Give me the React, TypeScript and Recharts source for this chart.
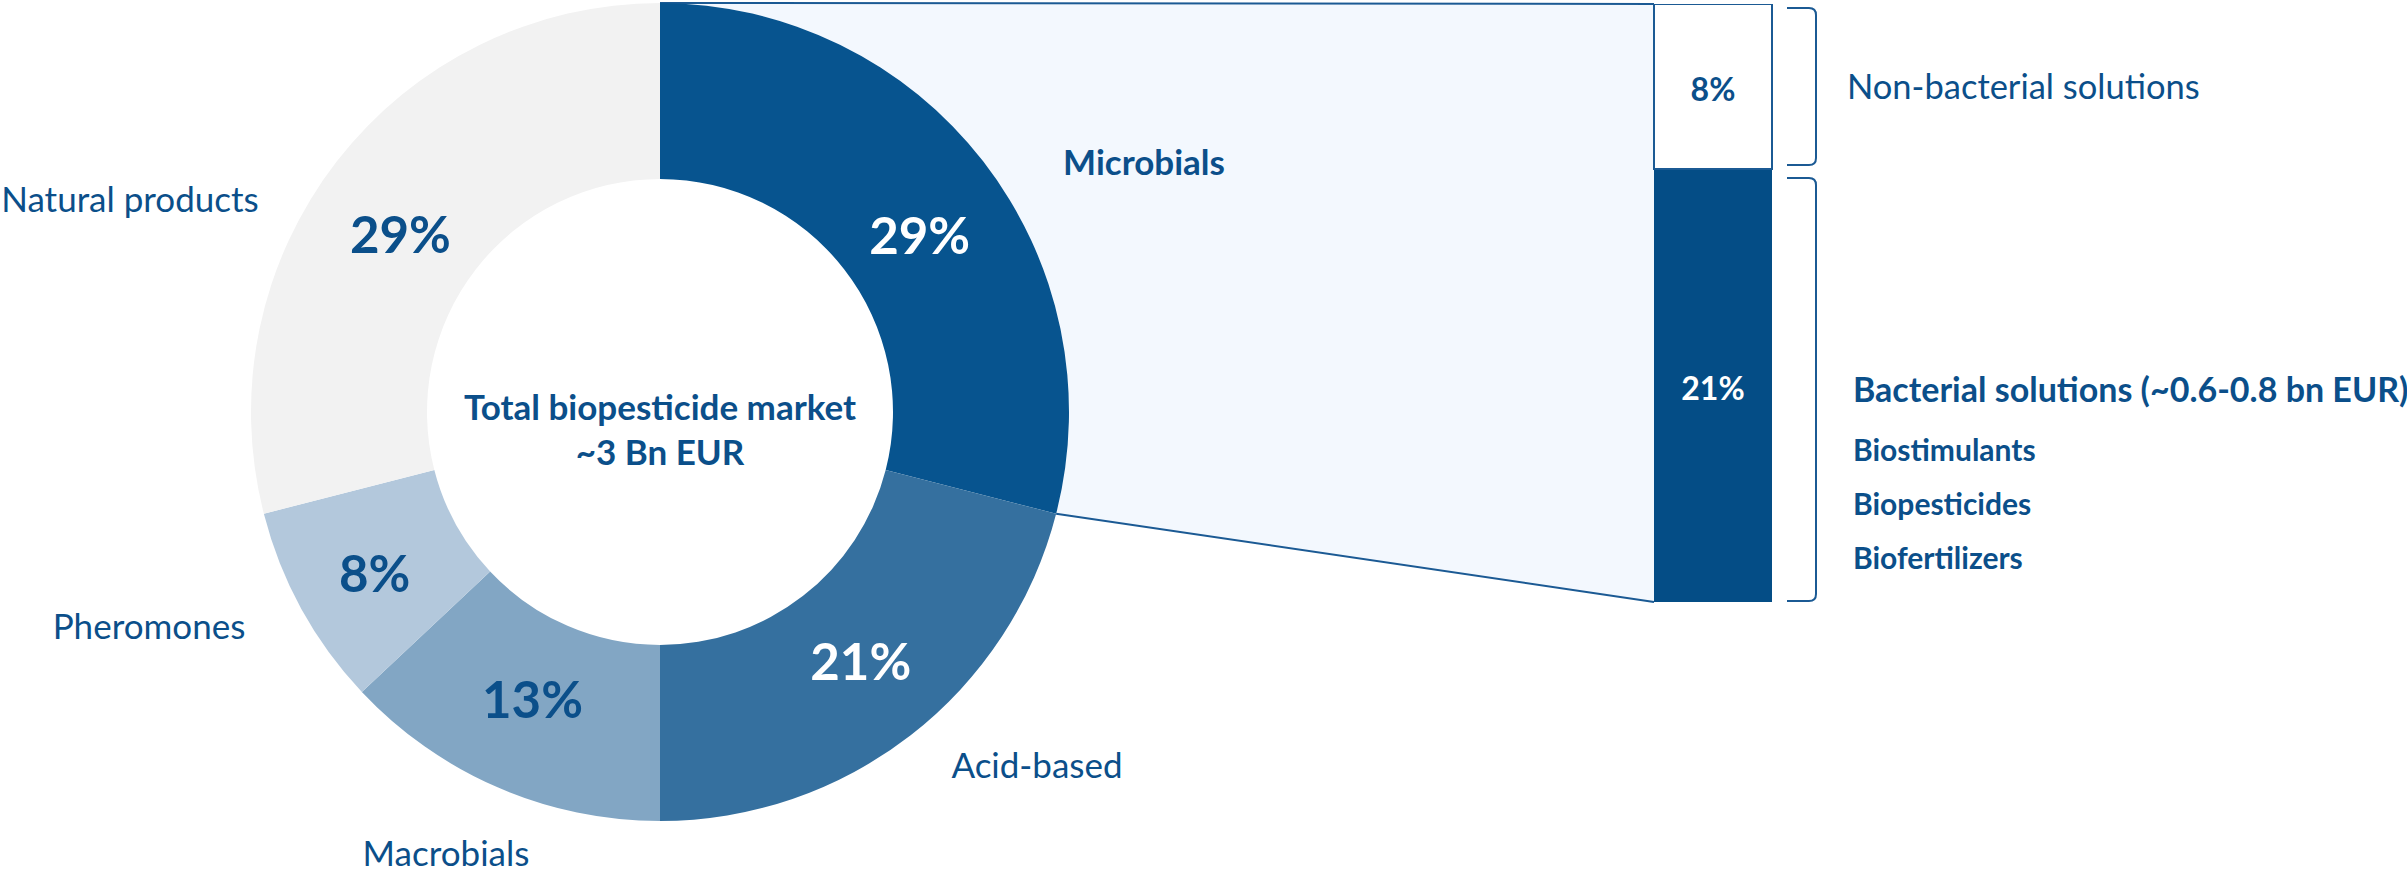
import React from 'react';
import { PieChart, Pie, Cell, BarChart, Bar, XAxis, YAxis, LabelList } from 'recharts';

// market split, clockwise from 12 o'clock
const segments = ['Microbials', 'Acid-based', 'Macrobials', 'Pheromones', 'Natural products'];
const shares = [29, 21, 13, 8, 29];

// split of the microbials slice (bottom of stack first)
const microParts = ['Bacterial solutions', 'Non-bacterial solutions'];
const microShares = [21, 8];

const bacterialItems = ['Biostimulants', 'Biopesticides', 'Biofertilizers'];
const centerLines = ['Total biopesticide market', '~3 Bn EUR'];
const bacterialTitle = 'Bacterial solutions (~0.6-0.8 bn EUR)';

const FONT = "Lato, 'Noto Sans', sans-serif";
const TEXT = '#0B4F8A';
const segmentColors = ['#07548F', '#35709F', '#82A6C4', '#B3C8DC', '#F2F2F2'];
const pctColors = ['#FFFFFF', '#FFFFFF', TEXT, TEXT, TEXT];

// layout
const W = 2407;
const H = 873;
const CX = 660;
const CY = 412;
const R_IN = 233;
const R_OUT = 409;
const BAR_X = 1654;
const BAR_W = 118;
const BAR_TOP = 4;
const BAR_BOTTOM = 602;
const BR_X0 = 1787;
const BR_X1 = 1816;
const LINE = '#1B5A94';

// name label anchors, relative to donut centre (text-anchor middle, baseline)
const nameOffsets: [number, number][] = [
  [484, -237],
  [377, 366],
  [-214, 454],
  [-511, 227],
  [-530, -200],
];
// small nudges of the % labels away from the mid-ring point
const pctNudge: [number, number][] = [
  [6, 19],
  [4, -5],
  [0, -8],
  [-4, 6],
  [-6, 18],
];

const RAD = Math.PI / 180;
const pieData = segments.map((name, i) => ({ name, value: shares[i] }));
const barRow = [{ name: 'Microbials', bacterial: microShares[0], nonBacterial: microShares[1] }];
const microTotal = microShares[0] + microShares[1];
const total = shares.reduce((a, b) => a + b, 0);

const renderLabel = (p: any) => {
  const { cx, cy, midAngle, innerRadius, outerRadius, index } = p;
  const r = (innerRadius + outerRadius) / 2;
  const x = cx + r * Math.cos(-midAngle * RAD) + pctNudge[index][0];
  const y = cy + r * Math.sin(-midAngle * RAD) + pctNudge[index][1];
  const [dx, dy] = nameOffsets[index];
  return (
    <g>
      <text
        x={x}
        y={y}
        textAnchor="middle"
        dominantBaseline="central"
        fill={pctColors[index]}
        fontSize={51}
        fontWeight={700}
        fontFamily={FONT}
      >
        {shares[index]}%
      </text>
      <text
        x={cx + dx}
        y={cy + dy}
        textAnchor="middle"
        fill={TEXT}
        fontSize={35}
        fontWeight={index === 0 ? 700 : 400}
        fontFamily={FONT}
      >
        {segments[index]}
      </text>
    </g>
  );
};

function bracket(y1: number, y2: number) {
  const r = 7;
  return `M ${BR_X0} ${y1} L ${BR_X1 - r} ${y1} Q ${BR_X1} ${y1} ${BR_X1} ${y1 + r} L ${BR_X1} ${y2 - r} Q ${BR_X1} ${y2} ${BR_X1 - r} ${y2} L ${BR_X0} ${y2}`;
}

export default function App() {
  // where the microbials slice ends on the outer rim
  const endDeg = 90 - (360 * shares[0]) / total;
  const px = CX + R_OUT * Math.cos(endDeg * RAD);
  const py = CY - R_OUT * Math.sin(endDeg * RAD);
  const topX = CX;
  const topY = CY - R_OUT;
  const divY = BAR_TOP + ((BAR_BOTTOM - BAR_TOP) * microShares[1]) / microTotal;

  const layer: React.CSSProperties = { position: 'absolute', left: 0, top: 0 };

  return (
    <div style={{ position: 'relative', width: W, height: H, background: '#fff', overflow: 'hidden' }}>
      <style>{'body{margin:0}'}</style>

      <svg width={W} height={H} style={layer}>
        <path
          d={`M ${topX} ${topY} L ${BAR_X} ${BAR_TOP} L ${BAR_X} ${BAR_BOTTOM} L ${px} ${py} A ${R_OUT} ${R_OUT} 0 0 0 ${topX} ${topY} Z`}
          fill="#F3F8FE"
        />
        <line x1={topX} y1={topY} x2={BAR_X} y2={BAR_TOP} stroke={LINE} strokeWidth={2} />
        <line x1={px} y1={py} x2={BAR_X} y2={BAR_BOTTOM} stroke={LINE} strokeWidth={2} />
      </svg>

      <div style={layer}>
        <PieChart width={W} height={H} margin={{ top: 0, right: 0, bottom: 0, left: 0 }}>
          <Pie
            data={pieData}
            dataKey="value"
            nameKey="name"
            cx={CX}
            cy={CY}
            innerRadius={R_IN}
            outerRadius={R_OUT}
            startAngle={90}
            endAngle={-270}
            stroke="none"
            label={renderLabel}
            labelLine={false}
            isAnimationActive={false}
          >
            {pieData.map((d, i) => (
              <Cell key={d.name} fill={segmentColors[i]} />
            ))}
          </Pie>
        </PieChart>
      </div>

      <div style={{ position: 'absolute', left: BAR_X - 2, top: BAR_TOP - 2 }}>
        <BarChart
          width={BAR_W + 4}
          height={BAR_BOTTOM - BAR_TOP + 4}
          data={barRow}
          margin={{ top: 2, right: 2, bottom: 2, left: 2 }}
          barCategoryGap={0}
        >
          <XAxis dataKey="name" hide />
          <YAxis hide domain={[0, microTotal]} allowDataOverflow />
          <Bar dataKey="bacterial" name={microParts[0]} stackId="m" fill="#044D86" isAnimationActive={false}>
            <LabelList
              dataKey="bacterial"
              position="center"
              fill="#FFFFFF"
              fontSize={32}
              fontWeight={700}
              fontFamily={FONT}
              dy={3}
              formatter={(v: any) => `${v}%`}
            />
          </Bar>
          <Bar
            dataKey="nonBacterial"
            name={microParts[1]}
            stackId="m"
            fill="#FFFFFF"
            stroke={LINE}
            strokeWidth={2}
            isAnimationActive={false}
          >
            <LabelList
              dataKey="nonBacterial"
              position="center"
              fill={TEXT}
              fontSize={32}
              fontWeight={700}
              fontFamily={FONT}
              dy={3}
              formatter={(v: any) => `${v}%`}
            />
          </Bar>
        </BarChart>
      </div>

      <svg width={W} height={H} style={{ ...layer, pointerEvents: 'none' }} fontFamily={FONT}>
        <text x={CX} y={420} textAnchor="middle" fill={TEXT} fontSize={35} fontWeight={700}>
          {centerLines[0]}
        </text>
        <text x={CX} y={465} textAnchor="middle" fill={TEXT} fontSize={35} fontWeight={700}>
          {centerLines[1]}
        </text>

        <path d={bracket(BAR_TOP + 4, divY - 4)} fill="none" stroke={LINE} strokeWidth={2} />
        <path d={bracket(divY + 9, BAR_BOTTOM - 1)} fill="none" stroke={LINE} strokeWidth={2} />

        <text x={1847} y={99} fill={TEXT} fontSize={34.5}>
          {microParts[1]}
        </text>
        <text x={1853} y={402} fill={TEXT} fontSize={34} fontWeight={700}>
          {bacterialTitle}
        </text>
        {bacterialItems.map((t, i) => (
          <text key={t} x={1853} y={461 + i * 54} fill={TEXT} fontSize={30} fontWeight={700}>
            {t}
          </text>
        ))}
      </svg>
    </div>
  );
}
